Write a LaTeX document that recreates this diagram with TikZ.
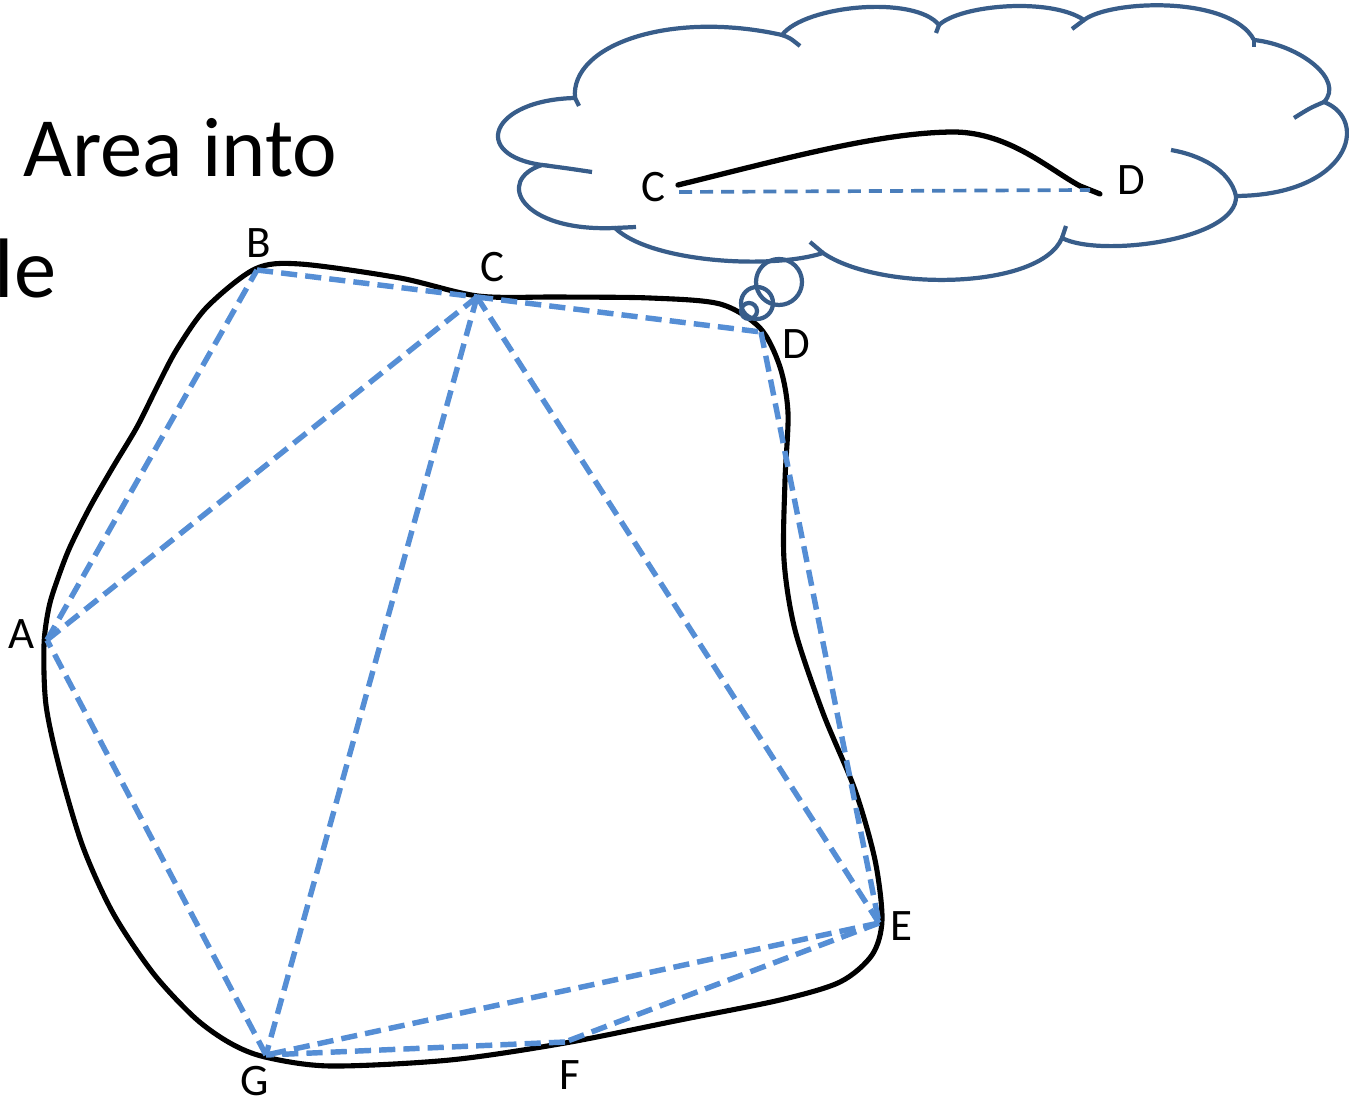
\documentclass[tikz,border=0pt]{standalone}
\usepackage{fontspec}
\setmainfont{Carlito}
\definecolor{cloudblue}{HTML}{385D8A}
\definecolor{edgeblue}{HTML}{558ED5}
\definecolor{lineblue}{HTML}{4A7EBB}

\begin{document}
\begin{tikzpicture}[x=0.01cm,y=-0.01cm,
  lbl/.style={font=\fontsize{12.8}{15}\selectfont,inner sep=0,anchor=base},
  big/.style={font=\fontsize{24}{29}\selectfont,inner sep=0,anchor=base west},
  edge/.style={edgeblue,line width=1.55pt,dash pattern=on 4.6pt off 2.3pt},
  cl/.style={cloudblue,line width=1.2pt}]
  \useasboundingbox (0,0) rectangle (1349,1101);
  \node[big] (title) at (23,177) {Area into};
  \node[big] (frag) at (-6,298) {le};
  % outline of the area
  \draw[line width=1.45pt] plot[smooth cycle,tension=0.5] coordinates {
    (255,269) (300,264) (400,278) (478,296) (560,297) (650,298) (720,304)
    (760,328) (780,367) (788,413) (785,480) (784,560) (795,630) (823,713)
    (855,790) (875,860) (882,920) (872,955) (840,982) (780,1000) (680,1020)
    (565,1043) (450,1060) (330,1066) (265,1057) (230,1043) (195,1018)
    (153,973) (113,913) (83,847) (60,770) (46,705) (44,645) (49,607)
    (58,578) (70,547) (90,507) (113,467) (137,427) (157,387) (177,349)
    (207,307)};
  % vertices and triangulation
  \coordinate (A) at (47,640);  \coordinate (B) at (257,270);
  \coordinate (C) at (477,297); \coordinate (D) at (761,332);
  \coordinate (E) at (879,923); \coordinate (F) at (565,1042);
  \coordinate (G) at (266,1055);
  \draw[edge] (A)--(B); \draw[edge] (B)--(C); \draw[edge] (C)--(D);
  \draw[edge] (D)--(E); \draw[edge] (E)--(F); \draw[edge] (F)--(G);
  \draw[edge] (G)--(A); \draw[edge] (A)--(C); \draw[edge] (C)--(G);
  \draw[edge] (C)--(E); \draw[edge] (E)--(G);
  \node[lbl] (la) at (22,649) {A};
  \node[lbl] (lb) at (259,258) {B};
  \node[lbl] (lc) at (492,282) {C};
  \node[lbl] (ld) at (796,359) {D};
  \node[lbl] (le) at (901,940) {E};
  \node[lbl] (lf) at (570,1089) {F};
  \node[lbl] (lg) at (255,1095) {G};
  % thought cloud
  \coordinate (k1) at (575,98);   \coordinate (k2) at (782,35);
  \coordinate (k3) at (939,25);   \coordinate (k4) at (1084,20);
  \coordinate (k5) at (1254,40);  \coordinate (k6) at (1324,102);
  \coordinate (k7) at (1236,196); \coordinate (k8) at (1062,238);
  \coordinate (k9) at (823,253);  \coordinate (k10) at (615,228);
  \coordinate (k11) at (542,165);
  \draw[cl] (k1) .. controls (570,45) and (670,10) .. (k2)
    .. controls (805,5) and (915,-5) .. (k3)
    .. controls (960,5) and (1050,-3) .. (k4)
    .. controls (1110,0) and (1230,-5) .. (k5)
    .. controls (1300,45) and (1345,80) .. (k6)
    .. controls (1370,120) and (1350,195) .. (k7)
    .. controls (1238,240) and (1100,258) .. (k8)
    .. controls (1040,290) and (880,292) .. (k9)
    .. controls (770,270) and (650,262) .. (k10)
    .. controls (520,232) and (495,180) .. (k11)
    .. controls (470,155) and (490,100) .. (k1);
  \draw[cl] (k1) -- (579,106);
  \draw[cl] (k2) .. controls (790,38) .. (800,46);
  \draw[cl] (k3) -- (936,33);
  \draw[cl] (k4) -- (1072,29);
  \draw[cl] (k5) -- (1254,47);
  \draw[cl] (k6) .. controls (1310,108) .. (1294,118);
  \draw[cl] (k7) .. controls (1230,170) and (1200,155) .. (1171,150);
  \draw[cl] (k8) -- (1066,226);
  \draw[cl] (k9) -- (810,242);
  \draw[cl] (k10) -- (636,227);
  \draw[cl] (k11) .. controls (565,168) .. (592,172);
  \draw[cl] (779,282) circle (23);
  \draw[cl] (757,303) circle (16);
  \draw[cl] (749,311) circle (8);
  % inside the cloud
  \coordinate (c0) at (678,185); \coordinate (d0) at (1100,194);
  \coordinate (c1) at (679,192); \coordinate (d1) at (1090,190);
  \draw[line width=1.5pt,line cap=round] (c0) .. controls (780,160) and (880,132) .. (955,132)
    .. controls (1010,133) and (1050,170) .. (1080,186) -- (d0);
  \draw[lineblue,line width=1.05pt,dash pattern=on 3.7pt off 2.3pt] (c1) -- (d1);
  \node[lbl] (cc) at (653,202) {C};
  \node[lbl] (cd) at (1131,195) {D};
\end{tikzpicture}
\end{document}
